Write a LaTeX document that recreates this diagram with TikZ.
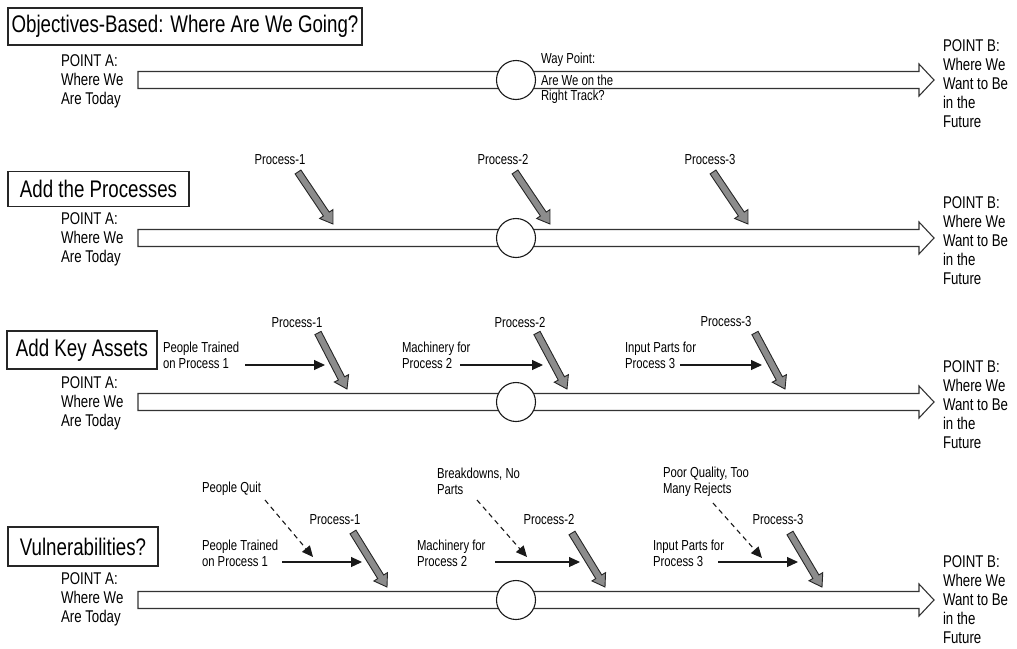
\documentclass[tikz,border=0pt]{standalone}
\usepackage{fontspec}
\setmainfont{Liberation Sans}[FakeStretch=0.78]
\usetikzlibrary{arrows.meta,calc}

\tikzset{
  every node/.style={inner sep=0pt, outer sep=0pt},
  titlebox/.style={draw=black!85, line width=1.2pt, align=center,
    font=\fontsize{24}{28}\selectfont},
  endtext/.style={anchor=west, align=left, font=\fontsize{17}{19}\selectfont},
  lbl/.style={font=\fontsize{14.5}{15.5}\selectfont},
  lblleft/.style={lbl, anchor=west, align=left},
  track/.style={draw=black!80, line width=1.1pt, fill=white},
  waycircle/.style={circle, draw=black!90, line width=1.1pt, fill=white,
    minimum size=39pt},
  procfill/.style={draw=black!85, line width=0.9pt, fill=black!45,
    line join=miter},
  feed/.style={draw=black!90, line width=1.1pt,
    -{Triangle[length=11pt,width=10pt]}},
  risk/.style={feed, dash pattern=on 5pt off 4pt},
}

% wide hollow arrow of one timeline, centred on height #1
\newcommand\timeline[1]{%
  \filldraw[track] (138,#1-8.5) -- (919,#1-8.5) -- (919,#1-16) -- (934,#1)
    -- (919,#1+16) -- (919,#1+8.5) -- (138,#1+8.5) -- cycle;}

% thick grey process arrow from coordinate #1 to coordinate #2
\newcommand\procarrow[2]{%
  \coordinate (hb) at ($(#2)!12pt!(#1)$);
  \filldraw[procfill] ($(#1)!3.5pt!90:(#2)$) -- ($(hb)!3.5pt!90:(#2)$)
    -- ($(hb)!8pt!90:(#2)$) -- (#2) -- ($(hb)!8pt!-90:(#2)$)
    -- ($(hb)!3.5pt!-90:(#2)$) -- ($(#1)!3.5pt!-90:(#2)$) -- cycle;}

\begin{document}
\begin{tikzpicture}[x=1pt, y=-1pt]
\useasboundingbox (0,0) rectangle (1017,648);

% ---------------- row 1: objectives ----------------
\node[titlebox, minimum width=354pt, minimum height=37pt] (t1) at (185,26.5)
  {Objectives-Based: Where Are We Going?};
\timeline{80}
\node[waycircle] (w1) at (516,80) {};
\node[endtext] (a1) at (61,81) {POINT A:\\Where We\\Are Today};
\node[endtext] (b1) at (943,84) {POINT B:\\Where We\\Want to Be\\in the\\Future};
\node[lblleft] (wpt) at (541,60) {Way Point:};
\node[lblleft] (wq) at (541,89) {Are We on the\\Right Track?};

% ---------------- row 2: processes ----------------
\node[titlebox, minimum width=181pt, minimum height=35pt] (t2) at (98.5,189)
  {Add the Processes};
\timeline{238}
\node[waycircle] (w2) at (516,238) {};
\node[endtext] (a2) at (61,239) {POINT A:\\Where We\\Are Today};
\node[endtext] (b2) at (943,241) {POINT B:\\Where We\\Want to Be\\in the\\Future};
\node[lbl] (p21) at (280,160) {Process-1};
\node[lbl] (p22) at (503,160) {Process-2};
\node[lbl] (p23) at (710,160) {Process-3};
\coordinate (s21) at (298,172); \coordinate (e21) at (333,224);
\coordinate (s22) at (515,172); \coordinate (e22) at (550,224);
\coordinate (s23) at (713,172); \coordinate (e23) at (748,224);
\procarrow{s21}{e21}
\procarrow{s22}{e22}
\procarrow{s23}{e23}

% ---------------- row 3: key assets ----------------
\node[titlebox, minimum width=150pt, minimum height=38pt] (t3) at (82,350)
  {Add Key Assets};
\timeline{402}
\node[waycircle] (w3) at (516,402) {};
\node[endtext] (a3) at (61,403) {POINT A:\\Where We\\Are Today};
\node[endtext] (b3) at (943,405) {POINT B:\\Where We\\Want to Be\\in the\\Future};
\node[lbl] (p31) at (297,323) {Process-1};
\node[lbl] (p32) at (520,323) {Process-2};
\node[lbl] (p33) at (726,322) {Process-3};
\coordinate (s31) at (318,333); \coordinate (e31) at (347,389);
\coordinate (s32) at (537,333); \coordinate (e32) at (567,389);
\coordinate (s33) at (755,333); \coordinate (e33) at (785,389);
\procarrow{s31}{e31}
\procarrow{s32}{e32}
\procarrow{s33}{e33}
\node[lblleft] (k31) at (163,355.5) {People Trained\\on Process 1};
\node[lblleft] (k32) at (402,355.5) {Machinery for\\Process 2};
\node[lblleft] (k33) at (625,355.5) {Input Parts for\\Process 3};
\coordinate (f31) at (245,365); \coordinate (g31) at (325,365);
\coordinate (f32) at (460,365); \coordinate (g32) at (543,365);
\coordinate (f33) at (680,365); \coordinate (g33) at (762,365);
\draw[feed] (f31) -- (g31);
\draw[feed] (f32) -- (g32);
\draw[feed] (f33) -- (g33);

% ---------------- row 4: vulnerabilities ----------------
\node[titlebox, minimum width=150pt, minimum height=39pt] (t4) at (83,546.5)
  {Vulnerabilities?};
\timeline{600}
\node[waycircle] (w4) at (516,600) {};
\node[endtext] (a4) at (61,599) {POINT A:\\Where We\\Are Today};
\node[endtext] (b4) at (943,600) {POINT B:\\Where We\\Want to Be\\in the\\Future};
\node[lbl] (p41) at (335,520) {Process-1};
\node[lbl] (p42) at (549,520) {Process-2};
\node[lbl] (p43) at (778,520) {Process-3};
\coordinate (s41) at (353,532); \coordinate (e41) at (387,587);
\coordinate (s42) at (572,533); \coordinate (e42) at (605,587);
\coordinate (s43) at (790,533); \coordinate (e43) at (822,587);
\procarrow{s41}{e41}
\procarrow{s42}{e42}
\procarrow{s43}{e43}
\node[lblleft] (k41) at (202,553.5) {People Trained\\on Process 1};
\node[lblleft] (k42) at (417,553.5) {Machinery for\\Process 2};
\node[lblleft] (k43) at (653,553.5) {Input Parts for\\Process 3};
\coordinate (f41) at (282,562); \coordinate (g41) at (362,562);
\coordinate (f42) at (495,562); \coordinate (g42) at (580,562);
\coordinate (f43) at (718,562); \coordinate (g43) at (798,562);
\draw[feed] (f41) -- (g41);
\draw[feed] (f42) -- (g42);
\draw[feed] (f43) -- (g43);
\node[lblleft] (r41) at (202,489) {People Quit};
\node[lblleft] (r42) at (437,481.5) {Breakdowns, No\\Parts};
\node[lblleft] (r43) at (663,481.5) {Poor Quality, Too\\Many Rejects};
\coordinate (u41) at (265,500); \coordinate (v41) at (313,557);
\coordinate (u42) at (477,500); \coordinate (v42) at (527,557);
\coordinate (u43) at (713,503); \coordinate (v43) at (762,558);
\draw[risk] (u41) -- (v41);
\draw[risk] (u42) -- (v42);
\draw[risk] (u43) -- (v43);
\end{tikzpicture}
\end{document}
